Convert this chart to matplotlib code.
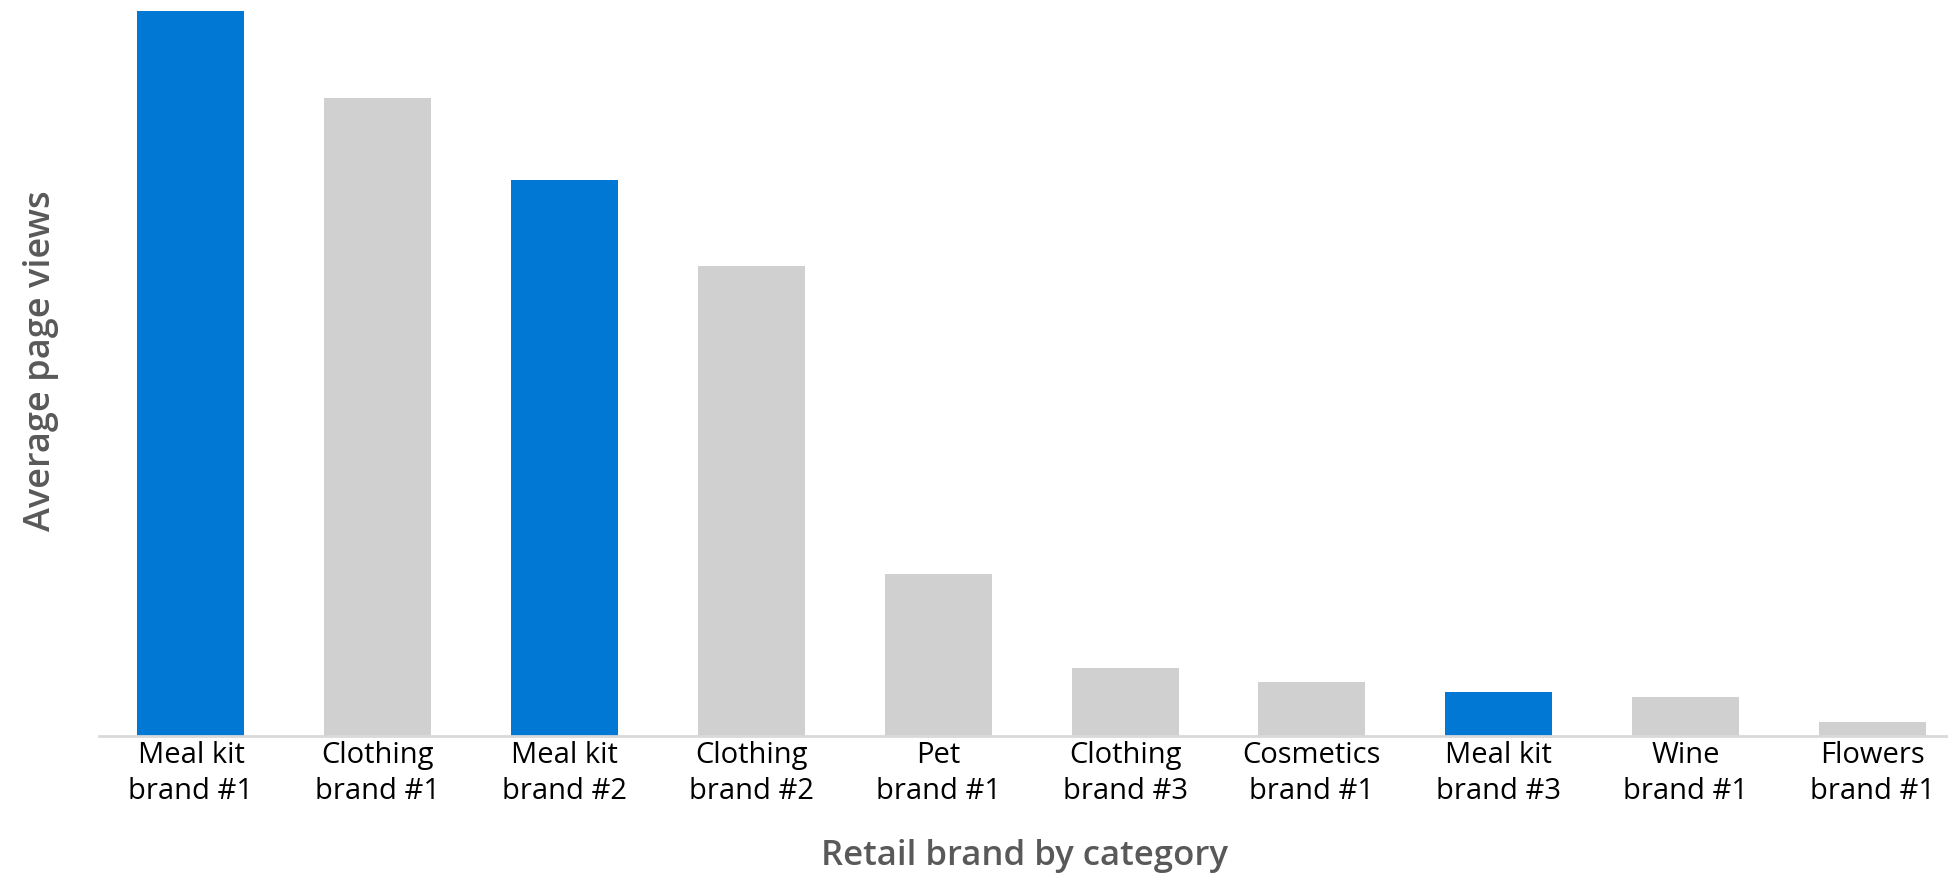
import numpy as np
import matplotlib.pyplot as plt

brands = ["Meal kit\nbrand #1", "Clothing\nbrand #1", "Meal kit\nbrand #2", "Clothing\nbrand #2",
          "Pet\nbrand #1", "Clothing\nbrand #3", "Cosmetics\nbrand #1", "Meal kit\nbrand #3",
          "Wine\nbrand #1", "Flowers\nbrand #1"]
views = [100, 88.0, 76.7, 64.8, 22.3, 9.3, 7.4, 6.0, 5.3, 1.9]
highlight = [True, False, True, False, False, False, False, True, False, False]

blue = '#0078D4'
grey = '#D0D0D0'
colors = [blue if h else grey for h in highlight]

plt.rcParams['font.family'] = ['Open Sans', 'DejaVu Sans']

fig = plt.figure(figsize=(19.49, 8.76), dpi=100)
ax = fig.add_axes([0.051, 0.160, 0.949, 0.840])

x = np.arange(len(brands))
ax.bar(x, views, width=0.573, color=colors, zorder=2)

ax.set_xlim(-0.49, 9.41)
ax.set_ylim(0, 101.5)

for s in ['top', 'right', 'left']:
    ax.spines[s].set_visible(False)
ax.spines['bottom'].set_color('#D9D9D9')
ax.spines['bottom'].set_linewidth(2)
ax.spines['bottom'].set_zorder(3)

ax.set_yticks([])
ax.set_xticks(x)
ax.set_xticklabels(brands, fontsize=21, color='black', linespacing=1.3)
ax.tick_params(axis='x', length=0, pad=4)

ax.set_ylabel('Average page views', fontsize=26, color='#595959', fontweight='semibold')
ax.yaxis.set_label_coords(-0.022, 0.51)
ax.set_xlabel('Retail brand by category', fontsize=25, color='#595959', fontweight='semibold', labelpad=24)

fig.savefig('out.png', dpi=100)
